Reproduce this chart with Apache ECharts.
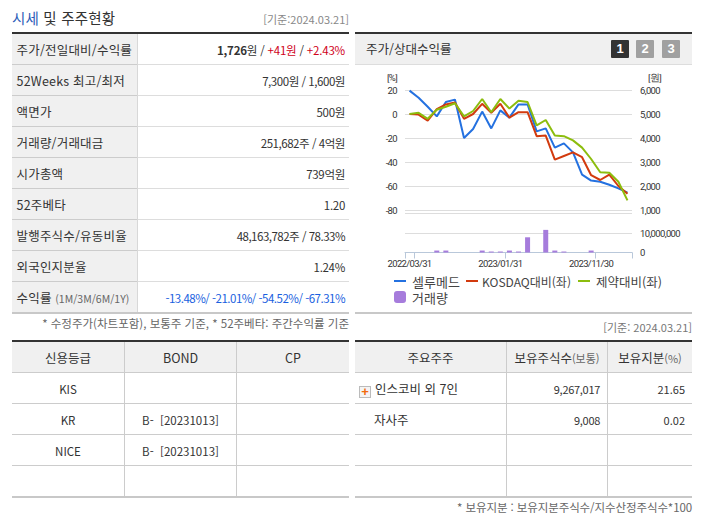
<!DOCTYPE html>
<html lang="ko"><head><meta charset="utf-8">
<script src="https://cdn.jsdelivr.net/npm/echarts@6/dist/echarts.min.js"></script>
<style>
html,body{margin:0;padding:0;background:#fff;width:702px;height:525px;overflow:hidden}
body{font-family:"Noto Sans CJK KR","Noto Sans",sans-serif;font-size:12px;color:#333;position:relative}
.a{position:absolute;white-space:nowrap}
.r{text-align:right}.c{text-align:center}
#chart{position:absolute;left:0;top:0;width:702px;height:525px;z-index:2}
#chart svg text[style*="9.5px"]{letter-spacing:-.65px}
.red{color:#d0021b}.blue{color:#1a5fe0}
</style></head><body>
<div id="chart"></div>
<script>
const dates = ['2022/03/31','2022/04/29','2022/05/31','2022/06/30','2022/07/29','2022/08/31','2022/09/30','2022/10/31','2022/11/30','2022/12/29','2023/01/31','2023/02/28','2023/03/31','2023/04/28','2023/05/31','2023/06/30','2023/07/31','2023/08/31','2023/09/27','2023/10/31','2023/11/30','2023/12/28','2024/01/31','2024/02/29','2024/03/21'];
const price  = [5975,5675,5300,4900,5500,5600,4000,4375,5100,4400,5150,4850,5400,5400,4275,4400,3600,3775,3400,2475,2225,2175,2050,1900,1726];
const kosdaq = [0,-0.5,-5.5,4,8,9.5,-4,0,8.5,1,8.5,-3,1.5,1.5,-18.5,-18,-38,-35,-32,-36,-51,-55,-50.5,-60,-66.5];
const pharma = [0,1,-4,3.5,6,9,-2,2.5,12.5,1.5,12.5,4.5,11,10,-9.5,-5,-18,-18.5,-22,-28,-37.5,-48.5,-49,-56.5,-72];
const volume = [0,0,0,1000000,1000000,0,0,0,1000000,500000,500000,1000000,500000,7800000,0,11600000,1000000,500000,0,0,1000000,0,0,0,0];
const quoteLabels = ['주가/전일대비/수익률','52Weeks 최고/최저','액면가','거래량/거래대금','시가총액','52주베타','발행주식수/유동비율','외국인지분율','수익률'];
const quoteValues = ['<b>1,726</b>원 / <span class="red">+41원</span> / <span class="red">+2.43%</span>','7,300원 / 1,600원','500원','251,682주 / 4억원','739억원','1.20','48,163,782주 / 78.33%','1.24%','<span class="blue">-13.48%/ -21.01%/ -54.52%/ -67.31%</span>'];
const creditHead = ['신용등급','BOND','CP'];
const creditRows = [['KIS','',''],['KR','B-  [20231013]',''],['NICE','B-  [20231013]',''],['','','']];
const holderHead = ['주요주주','보유주식수','보유지분'];
const holderRows = [['인스코비 외 7인','9,267,017','21.65'],['자사주','9,008','0.02']];

function box(l,t,w,h,bg){const d=document.createElement('div');d.className='a';d.style.cssText+=`left:${l}px;top:${t}px;width:${w}px;height:${h}px;background:${bg}`;document.body.appendChild(d);return d;}
function txt(s,l,t,w,h,cls,css){const d=box(l,t,w,h,'transparent');d.className='a '+(cls||'');d.style.lineHeight=h+'px';d.innerHTML=s;if(css)d.style.cssText+=css;return d;}

// title
txt('<span style="color:#2b5cb8">시세</span> 및 주주현황',12,8,200,20,'','font-size:14.5px;letter-spacing:.2px');
txt('[기준:2024.03.21]',200,11,149,16,'r','font-size:11px;color:#888');

// quote table
box(12,32,337,2,'#333');
box(12,34,125,279,'#f0f0f0');
box(137,34,1,279,'#d8d8d8');
const rowY=[35,66,97,128,159,190,221,252,283];
const valueSpacing=[-.2,-.45,-.3,-.45,-.3,-.3,-.5,-.3,-.5];
quoteLabels.forEach((s,i)=>{
  const extra=i===8?' <span style="font-size:10.5px;color:#666;letter-spacing:0">(1M/3M/6M/1Y)</span>':'';
  txt(s+extra,16.5,rowY[i],120,30,'','font-size:12.5px;letter-spacing:.2px;color:#333');
  txt(quoteValues[i],140,rowY[i],205,30,'r','font-size:11.5px;letter-spacing:'+valueSpacing[i]+'px');
  if(i<8){box(12,rowY[i]+29,125,1,'#ccc');box(138,rowY[i]+29,211,1,'#ddd');}
});
box(12,312,337,2,'#c8c8c8');
txt('* 수정주가(차트포함), 보통주 기준, * 52주베타: 주간수익률 기준',12,315,337,16,'r','font-size:11.5px;color:#666');

// chart panel
box(355,32,337,2,'#333');
box(355,34,337,30,'#f0f0f0');
box(355,64,337,1,'#ddd');
txt('주가/상대수익률',366,39,150,20,'','font-size:12.5px');
[[611,'#333','1'],[636,'#a0a0a0','2'],[662,'#a0a0a0','3']].forEach(b=>{
  const d=txt(b[2],b[0],40,18,18,'c','color:#fff;font-weight:700;font-size:13px;border-radius:1px;font-family:"Liberation Sans"');d.style.background=b[1];
});
box(355,312,337,2,'#c8c8c8');
txt('[기준: 2024.03.21]',500,319,192,17,'r','font-size:11px;color:#777');

// bottom tables
const rowB=[343,374,405,436,467];
function grid(l,w,cols){
  box(l,340,w,2,'#333');
  box(l,342,w,30,'#f0f0f0');
  [372,403,434,465].forEach(y=>box(l,y,w,1,'#ccc'));
  box(l,496,w,2,'#c8c8c8');
  cols.forEach(x=>box(x,342,1,154,'#ccc'));
}
grid(12,337,[124,236]);
grid(355,337,[506,607]);
const cx=[[12,112],[125,111],[237,112]];
creditHead.forEach((s,j)=>txt(s,cx[j][0],rowB[0],cx[j][1],30,'c','font-size:12.5px'));
creditRows.forEach((r,i)=>r.forEach((s,j)=>{ if(s) txt(s.replace(/ /g,'&nbsp;'),cx[j][0],rowB[i+1],cx[j][1],30,'c','font-size:11.5px');}));
txt(holderHead[0],355,rowB[0],151,30,'c','font-size:12.5px');
txt(holderHead[1]+'<span style="font-size:11px;color:#666">(보통)</span>',507,rowB[0],100,30,'c','font-size:12.5px');
txt(holderHead[2]+'<span style="font-size:11px;color:#666">(%)</span>',608,rowB[0],84,30,'c','font-size:12.5px');
holderRows.forEach((r,i)=>{
  txt(r[0],i===0?375:374,rowB[i+1],130,30,'','font-size:12.5px');
  txt(r[1],507,rowB[i+1],93,30,'r','font-size:11px;letter-spacing:-.3px;color:#333');
  txt(r[2],608,rowB[i+1],77,30,'r','font-size:11px;color:#333');
});
txt('+',359,386,10,10,'c','border:1px solid #bbb;background:#f4f4f4;color:#f26a0c;font-weight:700;font-size:13px;line-height:9px;font-family:"Liberation Sans"');
txt('* 보유지분 : 보유지분주식수/지수산정주식수*100',400,499,292,16,'r','font-size:11.5px;color:#666;letter-spacing:-.1px');

// chart
const axisLab={fontFamily:'Roboto,sans-serif',fontSize:9.5,color:'#333'};
const chart=echarts.init(document.getElementById('chart'),null,{renderer:'svg',width:702,height:525});
function legendAt(left,top,name,h,icon,size,pad){return {left,top,itemWidth:12,itemHeight:h,padding:[5,5,0,5],icon,textStyle:{fontFamily:'"Noto Sans CJK KR",sans-serif',fontSize:size,lineHeight:14,height:14,color:'#444',padding:[0,0,0,pad]},data:[name]};}
chart.setOption({
  animation:false,
  backgroundColor:'transparent',
  grid:[
    {left:405,top:90,width:227,height:120},
    {left:405,top:213.5,width:227,height:39}
  ],
  xAxis:[
    {type:'category',gridIndex:0,data:dates,axisLine:{show:false},axisTick:{show:false},axisLabel:{show:false},splitLine:{show:false}},
    {type:'category',gridIndex:1,data:dates,
     axisLine:{show:true,lineStyle:{color:'#b9c8da',width:1}},
     axisTick:{show:true,length:6,lineStyle:{color:'#b9c8da'},interval:(i)=>i%10===1||i===0},
     axisLabel:{interval:(i)=>i%10===0,margin:6,...axisLab},
     splitLine:{show:false}}
  ],
  yAxis:[
    {type:'value',gridIndex:0,min:-80,max:20,interval:20,position:'left',name:'[%]',nameGap:8,nameTextStyle:{...axisLab,align:'right',padding:[0,8,0,0]},
     axisLine:{show:false},axisTick:{show:false},axisLabel:{...axisLab,margin:8},splitLine:{lineStyle:{color:'#ddd',width:1}}},
    {type:'value',gridIndex:0,min:1000,max:6000,interval:1000,position:'right',name:'[원]',nameGap:8,nameTextStyle:{...axisLab,align:'left',padding:[0,0,0,16]},
     axisLine:{show:false},axisTick:{show:false},axisLabel:{...axisLab,margin:8},splitLine:{show:false}},
    {type:'value',gridIndex:1,min:0,max:20000000,interval:10000000,position:'right',
     axisLine:{show:false},axisTick:{show:false},
     axisLabel:{...axisLab,margin:8,formatter:(v)=>v>=20000000?'':echarts.format.addCommas(v)},
     splitLine:{lineStyle:{color:'#ddd',width:1}}}
  ],
  legend:[
    legendAt(389,269,'셀루메드',2,'rect',13,1),
    legendAt(461,269,'KOSDAQ대비(좌)',2,'rect',12,-1),
    legendAt(573,269,'제약대비(좌)',2,'rect',12.5,1),
    legendAt(389,285,'거래량',12,'roundRect',13,1)
  ],
  series:[
    {name:'거래량',type:'bar',xAxisIndex:1,yAxisIndex:2,data:volume,barWidth:5,itemStyle:{color:'#a67cdc'}},
    {name:'셀루메드',type:'line',xAxisIndex:0,yAxisIndex:1,data:price,showSymbol:false,lineStyle:{color:'#2471e0',width:2},itemStyle:{color:'#2471e0'}},
    {name:'KOSDAQ대비(좌)',type:'line',xAxisIndex:0,yAxisIndex:0,data:kosdaq,showSymbol:false,lineStyle:{color:'#d23a0e',width:2},itemStyle:{color:'#d23a0e'}},
    {name:'제약대비(좌)',type:'line',xAxisIndex:0,yAxisIndex:0,data:pharma,showSymbol:false,lineStyle:{color:'#8cbd0e',width:2},itemStyle:{color:'#8cbd0e'}}
  ]
});
</script>
</body></html>
